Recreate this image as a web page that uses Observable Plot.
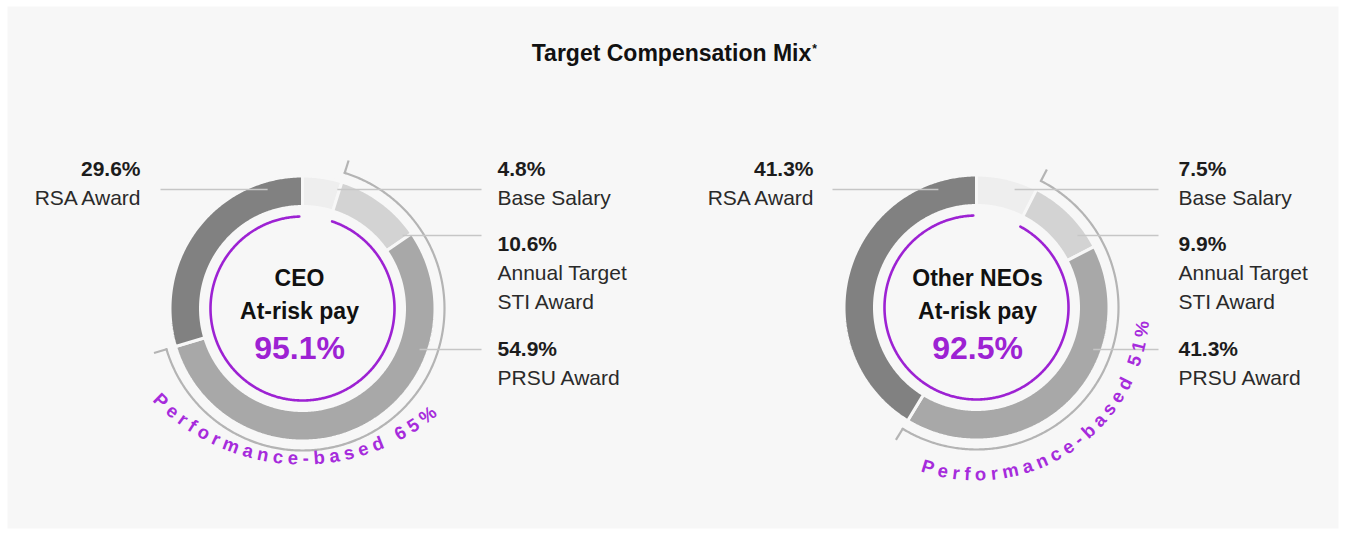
<!DOCTYPE html>
<html><head><meta charset="utf-8">
<script src="https://cdn.jsdelivr.net/npm/d3@7"></script>
<script src="https://cdn.jsdelivr.net/npm/@observablehq/plot@0.6"></script>
<style>
body{margin:0;background:#fff;}
#chart svg{display:block;}
</style></head><body><div id="chart"></div>
<script>
// ---------- data ----------
const title = "Target Compensation Mix";
const groups = ["CEO", "Other NEOs"];
const components = ["Base Salary", "Annual Target STI Award", "PRSU Award", "RSA Award"];
const componentLines = [["Base Salary"], ["Annual Target", "STI Award"], ["PRSU Award"], ["RSA Award"]];
const ceoValues = [4.8, 10.6, 54.9, 29.6];
const neoValues = [7.5, 9.9, 41.3, 41.3];
const atRiskPay = [95.1, 92.5];
const performanceBased = [65, 51];
const performanceComponents = [1, 2]; // STI + PRSU
const groupValues = [ceoValues, neoValues];

// ---------- styles / layout ----------
const segColors = ["#eeeeee", "#d3d3d3", "#a8a8a8", "#818181"];
const bg = "#f7f7f7";
const purple = "#9d22d3";
const purpleText = "#a62bdc";
const layout = [
  {cx: 302, cy: 308, tx: 299, leftX: 140, rightX: 497, lineL: 160, lineR: 481,
   textCx: 302, textCy: 255, textR: 209, textStart: 226},
  {cx: 976, cy: 307, tx: 977, leftX: 813, rightX: 1178, lineL: 832, lineR: 1158,
   textCx: 976, textCy: 307, textR: 173, textStart: 199}
];
const rows = [ // per component: baseline of percentage, leader line y, side
  {py: 175, ly: 189, side: "right"},
  {py: 250, ly: 235, side: "right"},
  {py: 355, ly: 349, side: "right"},
  {py: 175, ly: 189, side: "left"}
];
const R_OUT = 132.5, R_IN = 102, R_PURPLE = 92, R_PERF = 142, R_LEAD = 124;
const lineH = 29;
const font = "'Liberation Sans', Arial, Helvetica, sans-serif";

// ---------- geometry from data ----------
const rad = d => d * Math.PI / 180;
function pt(cx, cy, r, a) { return [cx + r * Math.sin(a), cy - r * Math.cos(a)]; }
function arcPts(cx, cy, r, a0, a1) {
  const n = Math.max(2, Math.ceil(Math.abs(a1 - a0) / 0.01));
  return d3.range(n + 1).map(i => pt(cx, cy, r, a0 + (a1 - a0) * i / n));
}

const segData = segColors.map(() => []);
const purpleData = [], perfData = [], ticks = [], leaders = [], labels = [], centerTexts = [], arcText = [];
const ctx = document.createElement("canvas").getContext("2d");
const arcFontSize = 18.5, arcSpacing = 5;
ctx.font = `bold ${arcFontSize}px ${font}`;

groups.forEach((g, gi) => {
  const L = layout[gi];
  const vals = groupValues[gi];
  const total = d3.sum(vals);
  const cum = d3.cumsum(vals);
  const ang = i => [ (i === 0 ? 0 : cum[i - 1]) / total * 2 * Math.PI, cum[i] / total * 2 * Math.PI ];
  vals.forEach((v, i) => {
    const [a0, a1] = ang(i);
    const pts = arcPts(L.cx, L.cy, R_OUT, a0, a1).concat(arcPts(L.cx, L.cy, R_IN, a1, a0));
    pts.push(pts[0]);
    pts.forEach(([x, y]) => segData[i].push({x, y, key: g}));
    const r = rows[i];
    const anchor = r.side === "left" ? "end" : "start";
    const lx = r.side === "left" ? L.leftX : L.rightX;
    labels.push({x: lx, y: r.py, text: v.toFixed(1) + "%", bold: true, anchor});
    componentLines[i].forEach((t, k) => labels.push({x: lx, y: r.py + lineH * (k + 1), text: t, bold: false, anchor}));
    const dy = r.ly - L.cy;
    const dx = Math.sqrt(Math.max(0, R_LEAD * R_LEAD - dy * dy));
    if (r.side === "left") leaders.push({x1: L.lineL, x2: L.cx - dx, y: r.ly});
    else leaders.push({x1: L.cx + dx, x2: L.lineR, y: r.ly});
  });
  const baseEnd = ang(0)[1];
  arcPts(L.cx, L.cy, R_PURPLE, baseEnd + rad(1.5), 2 * Math.PI - rad(2)).forEach(([x, y]) => purpleData.push({x, y, key: g}));
  const p0 = ang(performanceComponents[0])[0], p1 = ang(performanceComponents[1])[1];
  arcPts(L.cx, L.cy, R_PERF, p0, p1).forEach(([x, y]) => perfData.push({x, y, key: g}));
  [p0, p1].forEach(a => {
    const [x1, y1] = pt(L.cx, L.cy, R_PERF - 1, a), [x2, y2] = pt(L.cx, L.cy, R_PERF + 13, a);
    ticks.push({x1, y1, x2, y2});
  });
  centerTexts.push({x: L.tx, y: 285, text: g, size: 23});
  centerTexts.push({x: L.tx, y: 318, text: "At-risk pay", size: 23});
  centerTexts.push({x: L.tx, y: 358, text: atRiskPay[gi].toFixed(1) + "%", size: 32});
  const str = `Performance-based ${performanceBased[gi]}%`;
  let s = 0;
  for (const ch of str) {
    const w = ctx.measureText(ch).width;
    const th = rad(L.textStart) - (s + w / 2) / L.textR;
    const [x, y] = pt(L.textCx, L.textCy, L.textR, th);
    arcText.push({x, y, ch, rotate: th * 180 / Math.PI - 180});
    s += w + arcSpacing;
  }
});

ctx.font = `bold 23px ${font}`;
const titleW = ctx.measureText(title).width;
const titleX = 671;

const plot = Plot.plot({
  width: 1348, height: 535,
  marginLeft: 7, marginRight: 10, marginTop: 6, marginBottom: 7,
  x: {domain: [7, 1338], axis: null},
  y: {domain: [6, 528], reverse: true, axis: null},
  style: {fontFamily: font, background: "#fff", overflow: "visible"},
  marks: [
    Plot.frame({fill: bg, stroke: "none"}),
    ...segData.map((d, i) => Plot.line(d, {x: "x", y: "y", z: "key", fill: segColors[i], stroke: bg, strokeWidth: 3, strokeLinejoin: "miter"})),
    Plot.line(purpleData, {x: "x", y: "y", z: "key", stroke: purple, strokeWidth: 2.6}),
    Plot.line(perfData, {x: "x", y: "y", z: "key", stroke: "#b4b4b4", strokeWidth: 2.2}),
    Plot.link(ticks, {x1: "x1", y1: "y1", x2: "x2", y2: "y2", stroke: "#b4b4b4", strokeWidth: 2.2}),
    Plot.link(leaders, {x1: "x1", x2: "x2", y1: "y", y2: "y", stroke: "#c6c6c6", strokeWidth: 1.4}),
    Plot.text(labels.filter(d => d.bold && d.anchor === "end"), {x: "x", y: "y", text: "text", fontSize: 21, fontWeight: "bold", fill: "#1c1c1c", textAnchor: "end", lineAnchor: "bottom"}),
    Plot.text(labels.filter(d => d.bold && d.anchor === "start"), {x: "x", y: "y", text: "text", fontSize: 21, fontWeight: "bold", fill: "#1c1c1c", textAnchor: "start", lineAnchor: "bottom"}),
    Plot.text(labels.filter(d => !d.bold && d.anchor === "end"), {x: "x", y: "y", text: "text", fontSize: 21, fill: "#2a2a2a", textAnchor: "end", lineAnchor: "bottom"}),
    Plot.text(labels.filter(d => !d.bold && d.anchor === "start"), {x: "x", y: "y", text: "text", fontSize: 21, fill: "#2a2a2a", textAnchor: "start", lineAnchor: "bottom"}),
    Plot.text(centerTexts.filter(d => d.size === 23), {x: "x", y: "y", text: "text", fontSize: 23, fontWeight: "bold", fill: "#111", textAnchor: "middle", lineAnchor: "bottom"}),
    Plot.text(centerTexts.filter(d => d.size === 32), {x: "x", y: "y", text: "text", fontSize: 32, fontWeight: "bold", fill: purple, textAnchor: "middle", lineAnchor: "bottom"}),
    Plot.text(arcText, {x: "x", y: "y", text: "ch", rotate: "rotate", fontSize: arcFontSize, fontWeight: "bold", fill: purpleText, textAnchor: "middle", lineAnchor: "bottom"}),
    Plot.text([title], {x: titleX, y: 60, text: d => d, fontSize: 23, fontWeight: "bold", fill: "#111", textAnchor: "middle", lineAnchor: "bottom"}),
    Plot.text(["*"], {x: titleX + titleW / 2 + 1, y: 52, text: d => d, fontSize: 12, fontWeight: "bold", fill: "#111", textAnchor: "start", lineAnchor: "bottom"})
  ]
});
document.getElementById("chart").appendChild(plot);
</script>
</body></html>
